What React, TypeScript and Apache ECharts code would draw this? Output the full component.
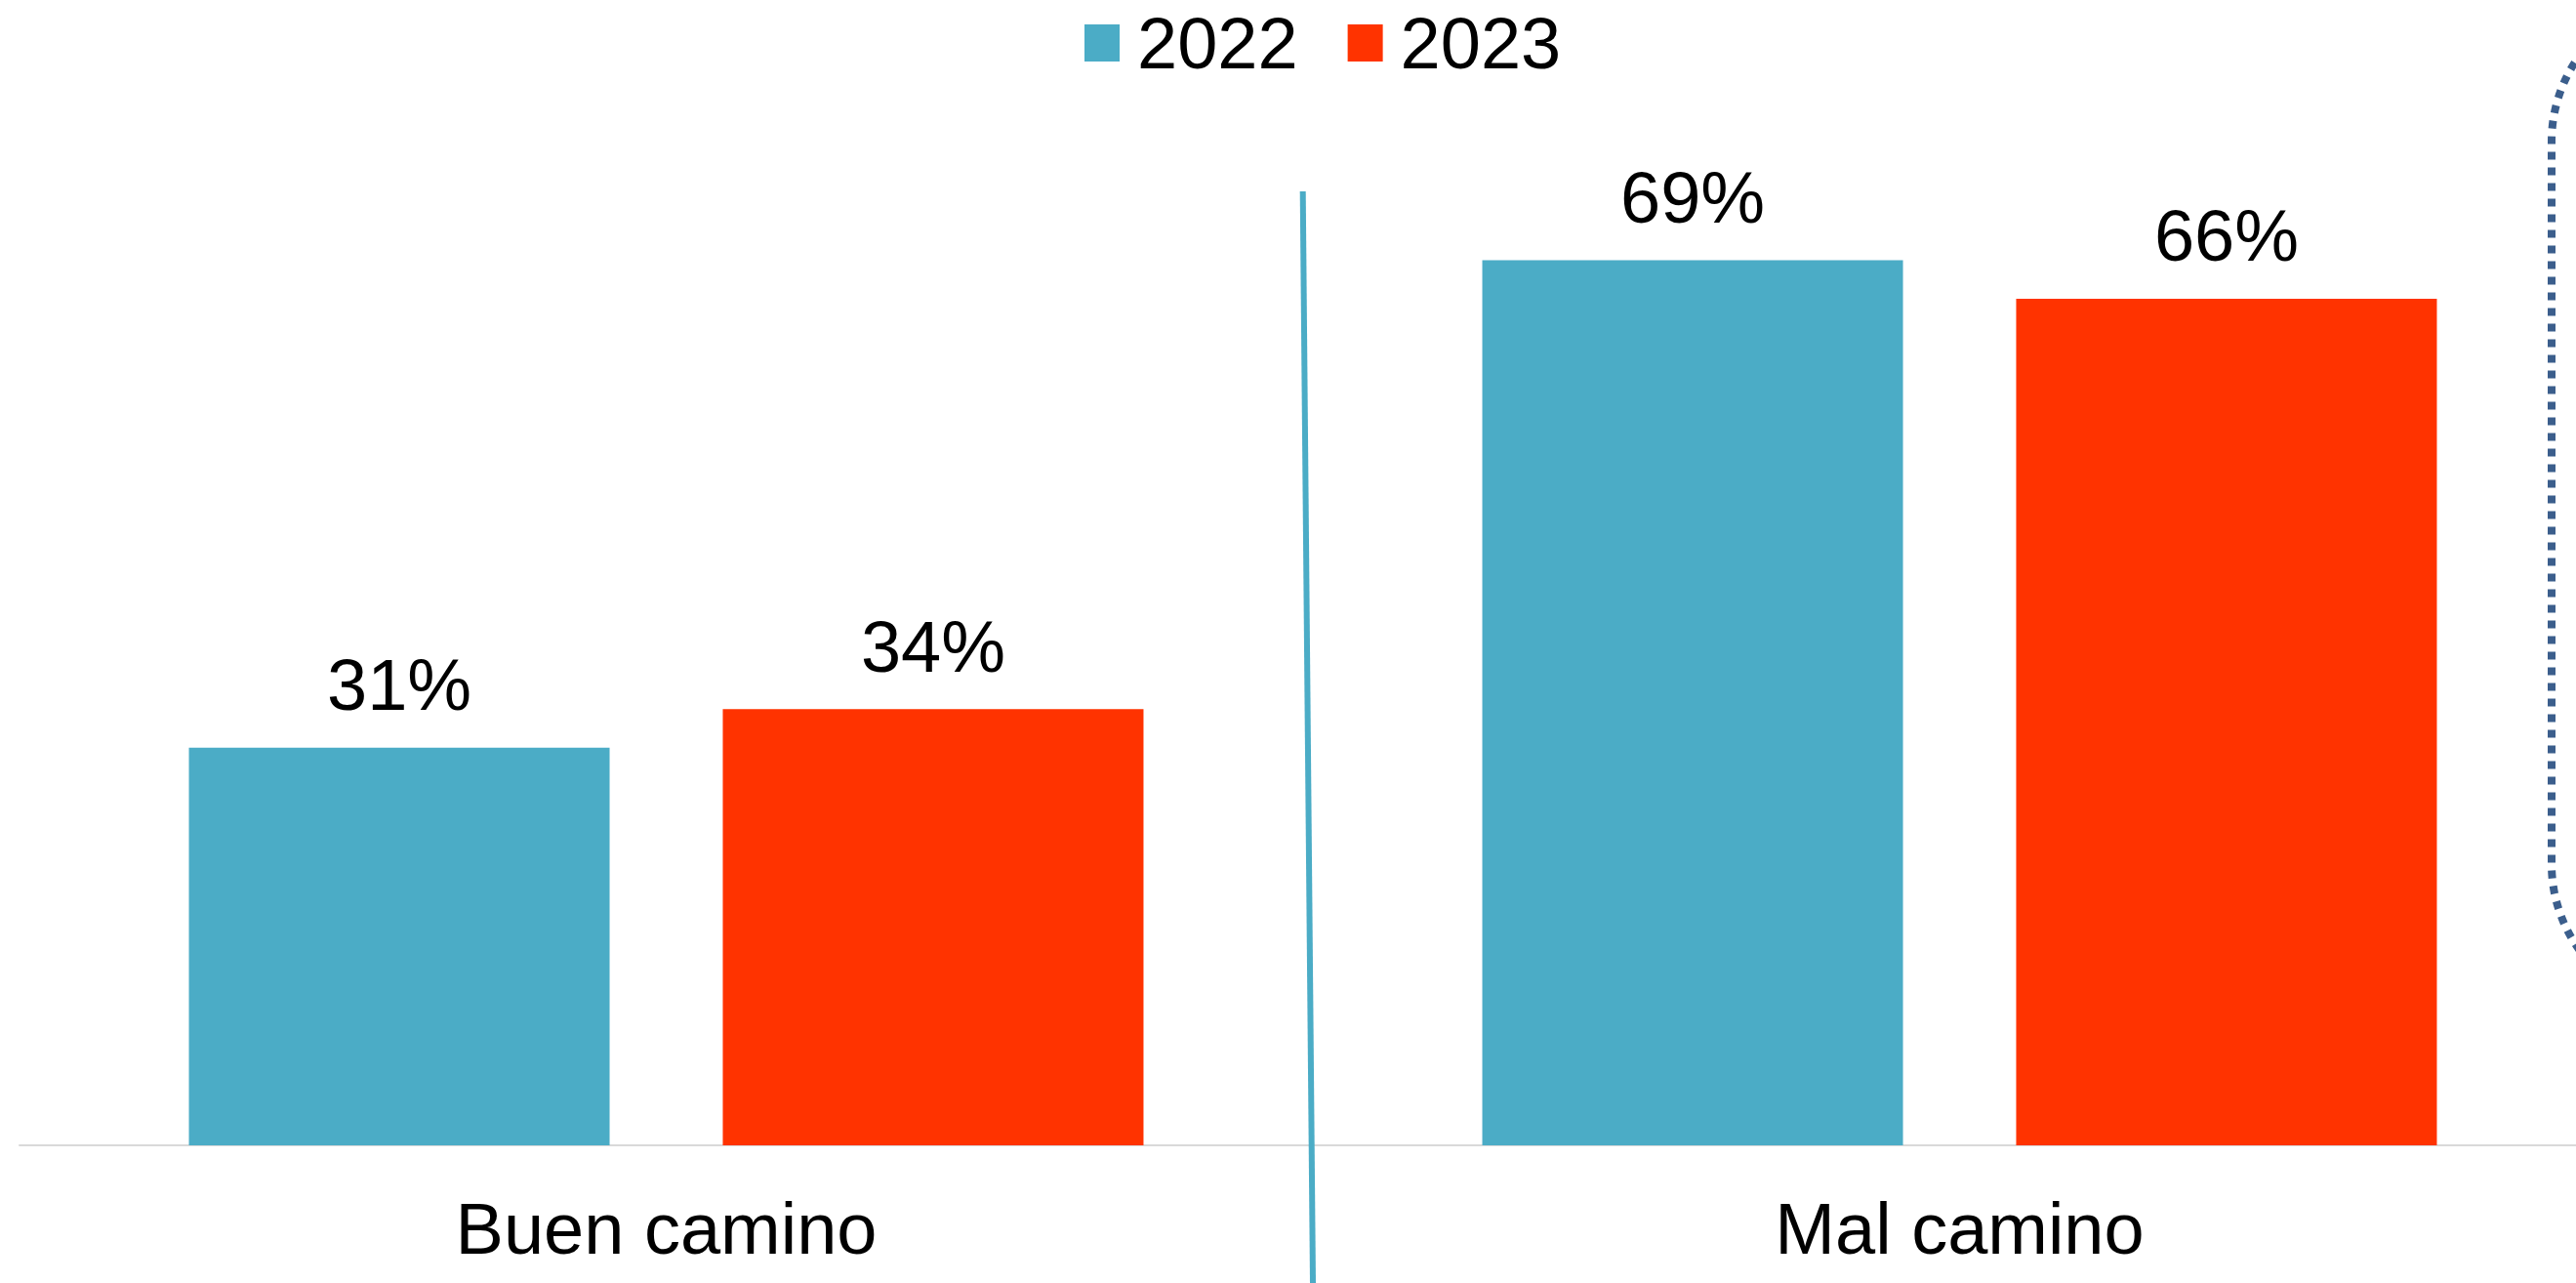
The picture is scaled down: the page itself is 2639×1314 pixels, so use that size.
import React, { useEffect, useRef } from "react";
import * as echarts from "echarts";

const categories = ["Buen camino", "Mal camino"];
const seriesNames = ["2022", "2023"];
const values2022 = [31, 69];
const values2023 = [34, 66];
const colors = ["#4BACC6", "#FF3300"];

export default function App() {
  const ref = useRef<HTMLDivElement>(null);
  useEffect(() => {
    if (!ref.current) return;
    const chart = echarts.init(ref.current, null, { renderer: "svg" });
    const font = "'Liberation Sans', Arial, Helvetica, sans-serif";
    const labelStyle = {
      show: true,
      position: "top",
      distance: 27,
      formatter: "{c}%",
      color: "#000",
      fontSize: 74,
      fontFamily: font,
    };
    chart.setOption({
      animation: false,
      backgroundColor: "#fff",
      legend: {
        left: 1106,
        top: 2,
        itemWidth: 36,
        itemHeight: 38,
        itemGap: 51,
        icon: "rect",
        textStyle: { fontSize: 74, fontFamily: font, color: "#000", padding: [0, 0, 0, 13] },
        data: seriesNames,
      },
      grid: { left: 20, width: 2650, top: 122, height: 1051, outerBoundsMode: "none", containLabel: false },
      xAxis: {
        type: "category",
        data: categories,
        axisLine: { lineStyle: { color: "#D9D9D9", width: 2 } },
        axisTick: { show: false },
        axisLabel: { fontSize: 74, fontFamily: font, color: "#000", margin: 48 },
      },
      yAxis: {
        type: "value",
        min: 0,
        max: 80,
        show: false,
        splitLine: { show: false },
      },
      series: [
        {
          name: seriesNames[0],
          type: "bar",
          data: values2022,
          barWidth: 431,
          barGap: "26.9%",
          itemStyle: { color: colors[0] },
          label: labelStyle,
        },
        {
          name: seriesNames[1],
          type: "bar",
          data: values2023,
          barWidth: 431,
          barGap: "26.9%",
          itemStyle: { color: colors[1] },
          label: labelStyle,
        },
      ],
      graphic: [
        {
          type: "line",
          shape: { x1: 1334.7, y1: 196, x2: 1345, y2: 1314 },
          style: { stroke: "#4BACC6", lineWidth: 6 },
          z: 10,
        },
        {
          type: "rect",
          shape: { x: 2614, y: -5, width: 400, height: 1040, r: 150 },
          style: { fill: "none", stroke: "#3B5E8C", lineWidth: 8, lineDash: [8, 8] },
          z: 10,
        },
      ],
    });
    return () => chart.dispose();
  }, []);
  return (
    <div
      ref={ref}
      style={{ position: "fixed", left: 0, top: 0, width: 2639, height: 1314, background: "#fff" }}
    />
  );
}
